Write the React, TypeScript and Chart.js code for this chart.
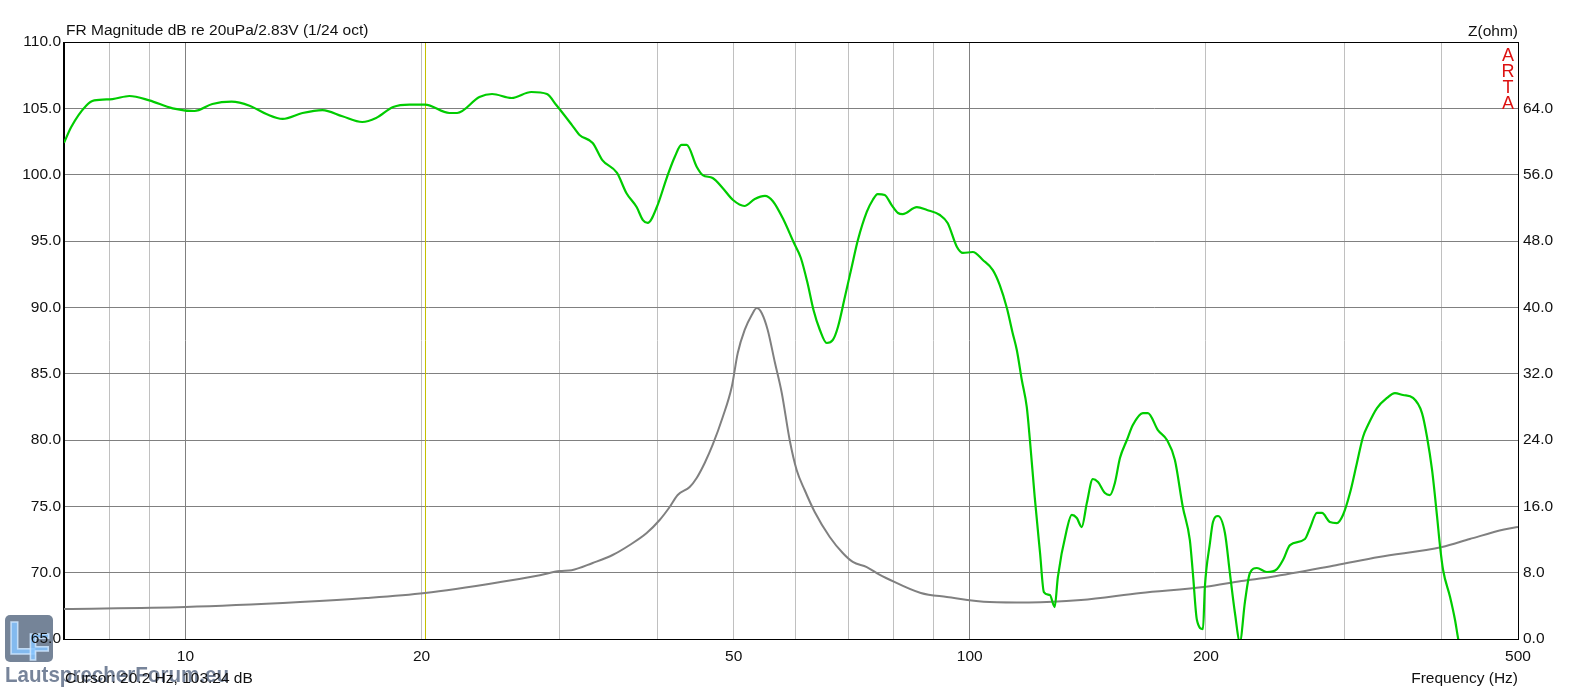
import { useEffect, useRef } from "react";
import { Chart, registerables, type ChartConfiguration, type Plugin } from "chart.js";

Chart.register(...registerables);

// frequency response, 1/24 oct smoothed (Hz / dB)
const FR_FREQ = [
  7.0, 7.15, 7.47, 7.65, 8.07, 8.48, 8.99, 9.63, 10.27, 10.82, 11.45, 12.07, 12.68, 13.3, 14.1,
  14.95, 15.85, 16.8, 17.5, 18.4, 19.3, 20.2, 21.7, 22.2, 23.7, 24.6, 26.05, 27.6, 28.9, 29.7,
  31.1, 31.8, 33.05, 34.0, 35.5, 36.5, 37.6, 38.3, 38.85, 39.9, 41.1, 42.05, 42.9, 43.55, 44.85,
  45.65, 47.0, 48.4, 49.9, 51.6, 53.2, 54.8, 56.1, 57.9, 59.6, 60.9, 62.1, 63.2, 64.4, 65.7,
  66.9, 67.9, 69.3, 70.7, 72.0, 73.9, 75.2, 76.3, 77.9, 79.5, 81.0, 82.1, 85.6, 88.2, 91.6,
  93.7, 96.3, 98.0, 100.9, 103.9, 107.0, 109.2, 111.5, 113.4, 114.8, 116.5, 118.2, 119.3, 121.0,
  122.9, 124.3, 126.5, 128.3, 129.5, 132.9, 134.9, 136.9, 138.9, 141.0, 143.5, 145.7, 148.7,
  150.9, 153.1, 155.4, 158.6, 161.4, 166.2, 168.7, 173.7, 178.4, 182.6, 186.9, 190.8, 192.5,
  194.8, 198.3, 199.4, 202.4, 204.2, 207.2, 211.5, 214.6, 217.8, 221.0, 224.3, 227.6, 232.3,
  239.2, 246.4, 250.8, 256.0, 267.5, 271.5, 277.1, 281.2, 287.8, 293.8, 299.1, 305.3, 311.6,
  317.2, 321.9, 330.5, 340.3, 348.4, 356.7, 367.4, 377.2, 382.8, 388.5, 394.3, 397.8, 401.3,
  409.6, 415.6, 419.3, 425.0,
];
const FR_DB = [
  102.4, 103.6, 105.2, 105.6, 105.7, 105.93, 105.6, 105.0, 104.8, 105.33, 105.5, 105.2, 104.57,
  104.2, 104.65, 104.87, 104.4, 103.97, 104.27, 105.1, 105.28, 105.28, 104.65, 104.65, 105.85,
  106.08, 105.78, 106.23, 106.08, 105.25, 103.74, 102.99, 102.39, 101.1, 100.13, 98.6, 97.56,
  96.58, 96.36, 97.56, 99.8, 101.33, 102.24, 102.24, 100.6, 99.97, 99.75, 99.0, 98.09, 97.64,
  98.17, 98.4, 98.0, 96.58, 94.92, 93.72, 91.83, 89.8, 88.29, 87.31, 87.54, 88.52, 90.78, 93.04,
  95.07, 97.19, 98.09, 98.54, 98.47, 97.71, 97.11, 97.03, 97.56, 97.34, 96.96, 96.36, 94.55,
  94.1, 94.17, 93.57, 92.81, 91.68, 89.95, 88.07, 86.78, 84.52, 82.49, 80.0, 75.7, 71.5, 68.54,
  68.31, 67.41, 69.67, 73.22, 74.35, 74.12, 73.44, 75.25, 77.06, 76.83, 76.0, 75.85, 76.76,
  78.64, 80.0, 81.13, 82.03, 82.03, 80.75, 80.0, 78.49, 74.95, 72.46, 69.97, 66.43, 65.75,
  68.92, 72.24, 73.82, 74.27, 72.99, 69.97, 66.96, 64.8, 67.8, 69.97, 70.35, 70.05, 70.27,
  70.95, 72.08, 72.54, 73.37, 74.5, 74.5, 73.82, 73.74, 74.35, 76.0, 78.27, 80.23, 81.13, 82.41,
  83.17, 83.54, 83.39, 83.17, 82.03, 80.23, 77.74, 74.2, 71.93, 70.2, 68.16, 66.43, 65.08, 63.5,
];

// impedance (Hz / ohm)
const Z_FREQ = [
  7.0, 10.0, 14.0, 17.0, 20.2, 25.2, 28.3, 30.0, 31.07, 33.05, 35.04, 36.85, 38.73, 40.23, 41.43,
  42.42, 43.94, 44.85, 45.92, 47.0, 48.42, 49.71, 50.6, 51.64, 52.72, 53.5, 54.28, 55.25, 56.41,
  57.58, 58.93, 60.15, 61.58, 63.43, 66.29, 68.87, 70.93, 73.9, 76.8, 78.2, 86.6, 93.5, 106.0,
  118.9, 138.6, 165.2, 200.0, 222.0, 242.0, 293.0, 332.4, 400.0, 434.0, 480.0, 500.0,
];
const Z_OHM = [
  3.62, 3.86, 4.46, 4.94, 5.55, 6.87, 7.7, 8.2, 8.3, 9.17, 10.13, 11.34, 12.78, 14.35, 15.92,
  17.37, 18.33, 19.42, 21.23, 23.4, 26.77, 30.39, 34.49, 37.27, 39.07, 39.92, 39.32, 37.27, 33.41,
  29.67, 24.0, 20.38, 17.97, 15.32, 12.3, 10.37, 9.29, 8.68, 7.72, 7.36, 5.55, 5.07, 4.46,
  4.4, 4.7, 5.55, 6.3, 7.0, 7.48, 8.9, 9.89, 11.1, 12.06, 13.2, 13.5,
];

const X_GRID = [8, 9, 10, 20, 30, 40, 50, 60, 70, 80, 90, 100, 200, 300, 400, 500];
const X_LABELS = [10, 20, 50, 100, 200, 500];
const X_MAJOR = [10, 100];
const CURSOR_HZ = 20.2;

const TITLE = "FR Magnitude dB re 20uPa/2.83V (1/24 oct)";
const Z_TITLE = "Z(ohm)";
const X_TITLE = "Frequency (Hz)";
const CURSOR_TEXT = "Cursor: 20.2 Hz, 103.24 dB";
const BRAND = ["A", "R", "T", "A"];
const WATERMARK = "LautsprecherForum.eu";

const FONT = '"Liberation Sans", Arial, sans-serif';
const FS = 15.5;

const overlay: Plugin<"line"> = {
  id: "artaOverlay",
  beforeDraw(chart) {
    // forum watermark, sits behind the axis labels
    const { ctx } = chart;
    ctx.save();
    ctx.globalAlpha = 0.85;
    ctx.fillStyle = "#5d6e86";
    ctx.beginPath();
    ctx.roundRect(5, 615, 48, 47, 5);
    ctx.fill();
    ctx.textAlign = "left";
    ctx.textBaseline = "alphabetic";
    ctx.lineWidth = 1.5;
    ctx.strokeStyle = "#cfe6ff";
    ctx.fillStyle = "#86c4ff";
    ctx.font = `bold 46px ${FONT}`;
    ctx.fillText("L", 8, 654);
    ctx.strokeText("L", 8, 654);
    ctx.font = `bold 36px ${FONT}`;
    ctx.fillText("F", 28, 660);
    ctx.strokeText("F", 28, 660);
    ctx.fillStyle = "#5f6f88";
    ctx.font = `bold 22px ${FONT}`;
    ctx.fillText(WATERMARK, 5, 682, 224);
    ctx.restore();
  },
  beforeDatasetsDraw(chart) {
    const { ctx, chartArea, scales } = chart;
    const cx = Math.round(scales.x.getPixelForValue(CURSOR_HZ)) + 0.5;
    ctx.save();
    ctx.strokeStyle = "#c4c000";
    ctx.lineWidth = 1;
    ctx.beginPath();
    ctx.moveTo(cx, chartArea.top);
    ctx.lineTo(cx, chartArea.bottom);
    ctx.stroke();
    ctx.restore();
  },
  afterDraw(chart) {
    const { ctx, chartArea } = chart;
    const { left, right, top, bottom } = chartArea;
    ctx.save();
    // frame
    ctx.strokeStyle = "#000";
    ctx.lineWidth = 1;
    ctx.strokeRect(Math.round(left) - 0.5, Math.round(top) + 0.5, Math.round(right - left) + 1, Math.round(bottom - top));

    ctx.fillStyle = "#111";
    ctx.font = `${FS}px ${FONT}`;
    ctx.textBaseline = "middle";
    ctx.textAlign = "left";
    ctx.fillText(TITLE, left + 2, 31);
    ctx.textAlign = "right";
    ctx.fillText(Z_TITLE, right, 32);
    ctx.fillText(X_TITLE, right, 679);
    ctx.textAlign = "left";
    ctx.fillText(CURSOR_TEXT, left + 1, 679);

    // ARTA stamp
    ctx.fillStyle = "#dd1111";
    ctx.font = `18px ${FONT}`;
    ctx.textAlign = "center";
    BRAND.forEach((ch, i) => ctx.fillText(ch, right - 10, 56 + i * 16));
    ctx.restore();
  },
};

export default function App() {
  const canvasRef = useRef<HTMLCanvasElement>(null);

  useEffect(() => {
    if (!canvasRef.current) return;
    document.body.style.margin = "0";
    const config: ChartConfiguration<"line"> = {
      type: "line",
      data: {
        datasets: [
          {
            label: "FR",
            data: FR_FREQ.map((f, i) => ({ x: f, y: FR_DB[i] })),
            borderColor: "#00cc00",
            borderWidth: 2.2,
            pointRadius: 0,
            cubicInterpolationMode: "monotone",
            yAxisID: "y",
            order: 0,
          },
          {
            label: "Z",
            data: Z_FREQ.map((f, i) => ({ x: f, y: Z_OHM[i] })),
            borderColor: "#808080",
            borderWidth: 2,
            pointRadius: 0,
            cubicInterpolationMode: "monotone",
            yAxisID: "y1",
            order: 1,
          },
        ],
      },
      options: {
        animation: false,
        responsive: true,
        maintainAspectRatio: false,
        parsing: false,
        layout: { padding: { top: 42, left: 0, right: 0, bottom: 0 } },
        plugins: { legend: { display: false }, tooltip: { enabled: false } },
        scales: {
          x: {
            type: "logarithmic",
            min: 7,
            max: 500,
            afterBuildTicks: (scale) => {
              scale.ticks = X_GRID.map((v) => ({ value: v }));
            },
            afterFit: (scale) => {
              scale.height = 51;
            },
            ticks: {
              autoSkip: false,
              maxRotation: 0,
              padding: 8,
              color: "#111",
              font: { family: FONT, size: FS },
              callback: (v) => (X_LABELS.includes(Number(v)) ? String(v) : ""),
            },
            grid: {
              drawTicks: false,
              color: (c) => (c.tick && X_MAJOR.includes(c.tick.value) ? "#808080" : "#c0c0c0"),
            },
            border: { color: "#000" },
          },
          y: {
            position: "left",
            min: 65,
            max: 110,
            afterFit: (scale) => {
              scale.width = 64;
            },
            ticks: {
              stepSize: 5,
              padding: 3,
              color: "#111",
              font: { family: FONT, size: FS },
              callback: (v) => Number(v).toFixed(1),
            },
            grid: { drawTicks: false, color: "#808080" },
            border: { color: "#000" },
          },
          y1: {
            position: "right",
            min: 0,
            max: 72,
            afterFit: (scale) => {
              scale.width = 64;
            },
            ticks: {
              stepSize: 8,
              padding: 5,
              color: "#111",
              font: { family: FONT, size: FS },
              callback: (v) => (Number(v) >= 72 ? "" : Number(v).toFixed(1)),
            },
            grid: { drawOnChartArea: false, drawTicks: false },
            border: { color: "#000" },
          },
        },
      },
      plugins: [overlay],
    };

    const chart = new Chart(canvasRef.current, config);
    return () => chart.destroy();
  }, []);

  return (
    <div style={{ position: "absolute", left: 0, top: 0, width: 1582, height: 690, background: "#fff" }}>
      <canvas ref={canvasRef} />
    </div>
  );
}
